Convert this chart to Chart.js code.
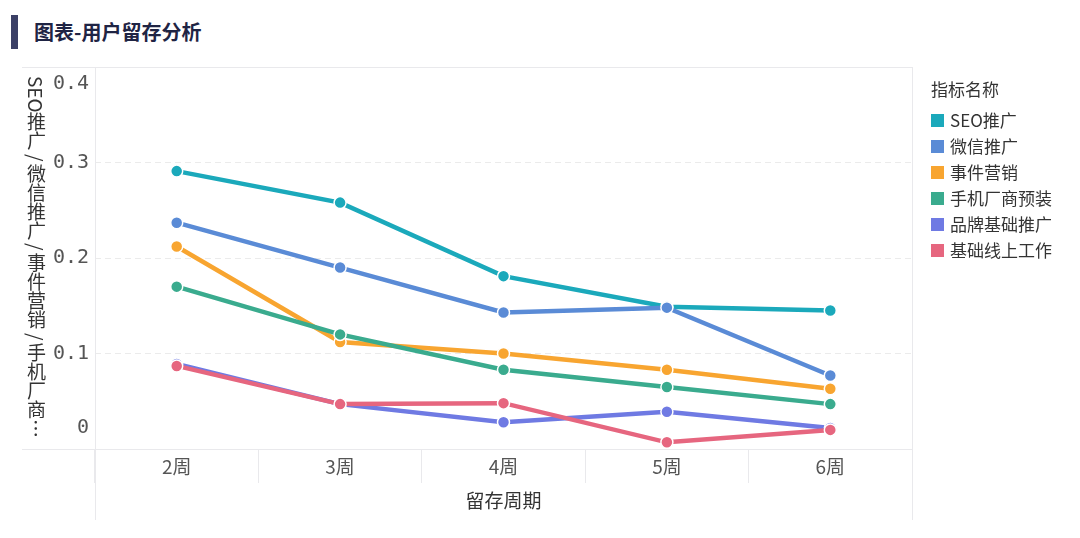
<!DOCTYPE html>
<html>
<head>
<meta charset="utf-8">
<script src="https://cdn.jsdelivr.net/npm/chart.js@4.4.0/dist/chart.umd.min.js"></script>
<style>
  html, body { margin: 0; padding: 0; background: #fff; }
  #wrap { position: relative; width: 1080px; height: 538px; overflow: hidden; font-family: "Noto Sans CJK SC", "Noto Sans", sans-serif; }
  #bar { position: absolute; left: 11px; top: 15px; width: 7px; height: 34px; background: #3b4066; }
  #title { position: absolute; left: 34px; top: 18px; font-size: 20px; line-height: 28px; font-weight: bold; color: #1f2444; }
  #ytitle { position: absolute; left: 24px; top: 76px; height: 368px; width: 24px; writing-mode: vertical-rl; white-space: nowrap; overflow: hidden; text-overflow: ellipsis; font-size: 19px; line-height: 24px; color: #333; }
  #ytitle .sl { padding: 3px 0; }
  #legend { position: absolute; left: 931px; top: 76px; font-size: 17px; color: #333; }
  #legend .lt { height: 26px; line-height: 26px; margin-bottom: 5px; }
  #legend .it { height: 26px; line-height: 26px; display: flex; align-items: center; }
  #legend .sw { width: 13px; height: 13px; margin-right: 6px; }
  canvas { position: absolute; left: 0; top: 0; }
</style>
</head>
<body>
<div id="wrap">
  <div id="bar"></div>
  <div id="title">图表-用户留存分析</div>
  <canvas id="chart" width="1080" height="538"></canvas>
  <div id="ytitle"></div>
  <div id="legend"></div>
</div>
<script>
// retention chart, values
const categories = ['2周', '3周', '4周', '5周', '6周'];
const seriesNames = ['SEO推广', '微信推广', '事件营销', '手机厂商预装', '品牌基础推广', '基础线上工作'];
const seoValues = [0.291, 0.258, 0.181, 0.149, 0.145];
const wechatValues = [0.237, 0.190, 0.143, 0.148, 0.077];
const eventValues = [0.212, 0.112, 0.100, 0.083, 0.063];
const vendorValues = [0.170, 0.120, 0.083, 0.065, 0.047];
const brandValues = [0.089, 0.047, 0.028, 0.039, 0.022];
const baseValues = [0.087, 0.047, 0.048, 0.007, 0.020];
const yTicks = [0, 0.1, 0.2, 0.3, 0.4];
const colors = ['#1ba9bb', '#5a8bd6', '#f8a530', '#3aab8e', '#6f7ae3', '#e6667f'];

const allValues = [seoValues, wechatValues, eventValues, vendorValues, brandValues, baseValues];

// y axis title, vertical text (slashes get a bit of extra room like the original)
document.getElementById('ytitle').innerHTML = seriesNames.join('<span class="sl">/</span>');

// html legend
const legend = document.getElementById('legend');
legend.innerHTML = '<div class="lt">指标名称</div>' + seriesNames.map((n, i) =>
  `<div class="it"><span class="sw" style="background:${colors[i]}"></span>${n}</div>`).join('');

const frameColor = '#e9e9ec';

// frame lines + y tick labels
const framePlugin = {
  id: 'frame',
  beforeDatasetsDraw(chart) {
    const { ctx, chartArea } = chart;
    ctx.save();
    ctx.strokeStyle = frameColor;
    ctx.lineWidth = 1;
    ctx.beginPath();
    ctx.moveTo(22, chartArea.top + 0.5); ctx.lineTo(chartArea.right, chartArea.top + 0.5);
    ctx.moveTo(22, chartArea.bottom + 0.5); ctx.lineTo(chartArea.right, chartArea.bottom + 0.5);
    ctx.moveTo(chartArea.left + 0.5, chartArea.top); ctx.lineTo(chartArea.left + 0.5, 520);
    ctx.moveTo(chartArea.right + 0.5, chartArea.top); ctx.lineTo(chartArea.right + 0.5, 520);
    ctx.stroke();
    ctx.restore();
  },
  afterDraw(chart) {
    const { ctx, scales } = chart;
    const y = scales.y;
    ctx.save();
    ctx.font = '20px "DejaVu Sans Mono", monospace';
    ctx.fillStyle = '#555';
    ctx.textAlign = 'right';
    yTicks.forEach((v, i) => {
      let py = y.getPixelForValue(v);
      // flush first and last label inside the plot
      if (i === 0) py -= 21;
      if (i === yTicks.length - 1) py += 17;
      ctx.textBaseline = 'middle';
      ctx.fillText(String(v), 89, py);
    });
    ctx.restore();
  }
};

const ctx = document.getElementById('chart').getContext('2d');
new Chart(ctx, {
  type: 'line',
  data: {
    labels: categories,
    datasets: seriesNames.map((name, i) => ({
      label: name,
      data: allValues[i],
      borderColor: colors[i],
      backgroundColor: colors[i],
      borderWidth: 4.5,
      pointRadius: 6,
      pointBorderColor: '#fff',
      pointBorderWidth: 1.5,
      pointBackgroundColor: colors[i],
      tension: 0,
      order: seriesNames.length - i
    }))
  },
  options: {
    responsive: false,
    animation: false,
    layout: { padding: { left: 22, top: 67, right: 168, bottom: 18 } },
    plugins: {
      legend: { display: false },
      tooltip: { enabled: false }
    },
    scales: {
      x: {
        offset: true,
        border: { display: false },
        grid: {
          offset: true,
          drawOnChartArea: false,
          tickLength: 34,
          color: frameColor
        },
        ticks: {
          padding: -28,
          color: '#555',
          font: { size: 19, family: '"Noto Sans CJK SC", sans-serif' }
        },
        title: {
          display: true,
          text: '留存周期',
          color: '#333',
          font: { size: 19, family: '"Noto Sans CJK SC", sans-serif' },
          padding: { top: 0, bottom: 8 }
        },
        afterFit(scale) { scale.height = 71; }
      },
      y: {
        min: 0,
        max: 0.4,
        ticks: { stepSize: 0.1, display: false },
        grid: {
          drawTicks: false,
          color: c => (c.tick.value > 0 && c.tick.value < 0.4) ? '#ebebeb' : 'rgba(0,0,0,0)'
        },
        border: { display: false, dash: [6, 4] },
        afterFit(scale) { scale.width = 73; }
      }
    }
  },
  plugins: [framePlugin]
});
</script>
</body>
</html>
